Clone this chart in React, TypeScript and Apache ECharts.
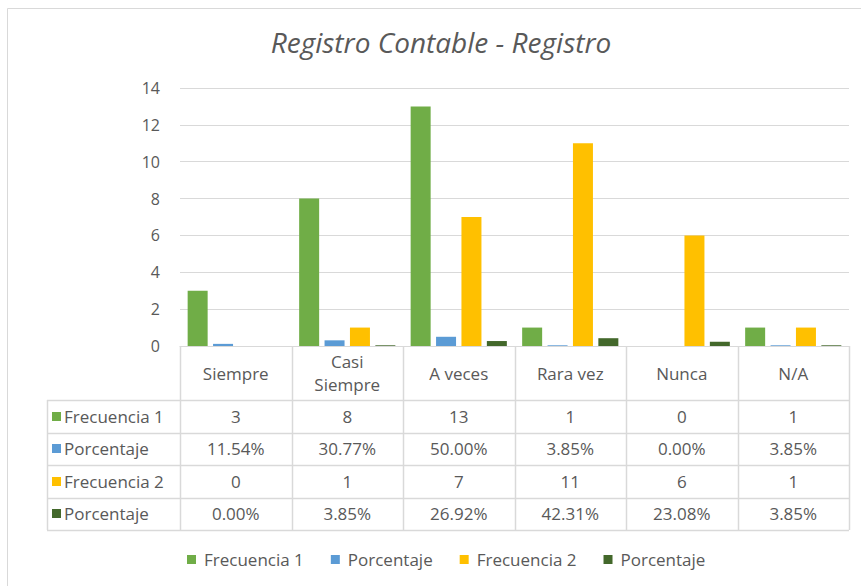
import React, { useEffect, useRef } from 'react';
import * as echarts from 'echarts';

const title = 'Registro Contable - Registro';
const categories = ['Siempre', 'Casi\nSiempre', 'A veces', 'Rara vez', 'Nunca', 'N/A'];
const frecuencia1 = [3, 8, 13, 1, 0, 1];
const porcentaje1 = [0.1154, 0.3077, 0.5, 0.0385, 0, 0.0385];
const frecuencia2 = [0, 1, 7, 11, 6, 1];
const porcentaje2 = [0, 0.0385, 0.2692, 0.4231, 0.2308, 0.0385];
const seriesLabels = ['Frecuencia 1', 'Porcentaje', 'Frecuencia 2', 'Porcentaje'];
const seriesKinds = ['count', 'pct', 'count', 'pct'];
const seriesColors = ['#70AD47', '#5B9BD5', '#FFC000', '#43682B'];
const yMin = 0;
const yMax = 14;
const yInterval = 2;

const FONT = '"Open Sans", Lato, sans-serif';
const TEXT = '#595959';
const LINE = '#D9D9D9';
const FS = 17;

export default function App() {
  const ref = useRef<HTMLDivElement>(null);
  useEffect(() => {
    if (!ref.current) return;
    const chart = echarts.init(ref.current, null, { renderer: 'svg' });
    const allData = [frecuencia1, porcentaje1, frecuencia2, porcentaje2];
    // unique internal names, shown trimmed
    const names = seriesLabels.map((n, i) => n + ' '.repeat(i));
    chart.setOption({
      animation: false,
      backgroundColor: '#fff',
      title: {
        text: title,
        left: 436,
        textAlign: 'center',
        top: 23,
        textStyle: { fontFamily: FONT, fontStyle: 'italic', fontWeight: 'normal', fontSize: 28, color: TEXT },
      },
      legend: {
        top: 546,
        left: 182,
        width: 670,
        icon: 'rect',
        itemWidth: 9,
        itemHeight: 9,
        itemGap: 27,
        data: names,
        formatter: (n: string) => n.trim(),
        textStyle: { fontFamily: FONT, fontSize: FS, color: TEXT, padding: [0, 0, 0, 3] },
      },
      grid: { left: 180, right: 12, top: 88, bottom: 240, containLabel: false },
      xAxis: {
        type: 'category',
        data: categories,
        axisTick: { show: false },
        axisLine: { lineStyle: { color: LINE } },
        axisLabel: {
          interval: 0,
          margin: 27,
          verticalAlign: 'middle',
          lineHeight: 23,
          fontFamily: FONT,
          fontSize: FS,
          color: TEXT,
        },
      },
      yAxis: {
        type: 'value',
        min: yMin,
        max: yMax,
        interval: yInterval,
        axisLine: { show: false },
        axisTick: { show: false },
        axisLabel: { margin: 20, fontFamily: FONT, fontSize: 16, color: TEXT },
        splitLine: { lineStyle: { color: LINE } },
      },
      series: allData.map((d, i) => ({
        name: names[i],
        type: 'bar',
        data: d,
        barWidth: 20,
        barGap: '27%',
        itemStyle: { color: seriesColors[i] },
      })),
    });

    // Build data table from axis positions
    const c0 = chart.convertToPixel({ xAxisIndex: 0 }, 0) as number;
    const c1 = chart.convertToPixel({ xAxisIndex: 0 }, 1) as number;
    const cw = c1 - c0;
    const axisY = Math.round(chart.convertToPixel({ yAxisIndex: 0 }, 0) as number);
    const gl = c0 - cw / 2;
    const gr = gl + cw * categories.length;
    const tableLeft = 47;
    const headerH = 54;
    const rowH = 32.5;
    const rowsTop = axisY + headerH;
    const tableBottom = rowsTop + rowH * allData.length;
    const px = (v: number) => Math.round(v) + 0.5;
    const els: any[] = [];
    els.push({
      type: 'rect',
      shape: { x: 7.5, y: 8.5, width: 900, height: 700 },
      style: { fill: 'none', stroke: LINE, lineWidth: 1 },
      silent: true,
    });
    for (let k = 0; k <= categories.length; k++) {
      const x = px(gl + cw * k);
      els.push({ type: 'line', shape: { x1: x, y1: axisY, x2: x, y2: tableBottom }, style: { stroke: LINE, lineWidth: 1.5 } });
    }
    els.push({ type: 'line', shape: { x1: px(tableLeft), y1: rowsTop, x2: px(tableLeft), y2: tableBottom }, style: { stroke: LINE, lineWidth: 1.5 } });
    for (let r = 0; r <= allData.length; r++) {
      const y = px(rowsTop + rowH * r);
      els.push({ type: 'line', shape: { x1: tableLeft, y1: y, x2: gr, y2: y }, style: { stroke: LINE, lineWidth: 1.5 } });
    }
    allData.forEach((d, r) => {
      const cy = rowsTop + rowH * r + rowH / 2;
      els.push({
        type: 'rect',
        shape: { x: 52, y: Math.round(cy - 4.5), width: 9, height: 9 },
        style: { fill: seriesColors[r] },
      });
      els.push({
        type: 'text',
        x: 64,
        y: cy,
        style: { text: seriesLabels[r], fill: TEXT, font: `${FS}px ${FONT}`, align: 'left', verticalAlign: 'middle', textAlign: 'left', textVerticalAlign: 'middle' },
      });
      d.forEach((v, k) => {
        const txt = seriesKinds[r] === 'pct' ? (v * 100).toFixed(2) + '%' : String(v);
        els.push({
          type: 'text',
          x: gl + cw * k + cw / 2,
          y: cy,
          style: { text: txt, fill: TEXT, font: `${FS}px ${FONT}`, align: 'center', verticalAlign: 'middle', textAlign: 'center', textVerticalAlign: 'middle' },
        });
      });
    });
    chart.setOption({ graphic: { elements: els } });
    return () => chart.dispose();
  }, []);
  return <div ref={ref} style={{ position: 'fixed', left: 0, top: 0, width: 861, height: 586 }} />;
}
